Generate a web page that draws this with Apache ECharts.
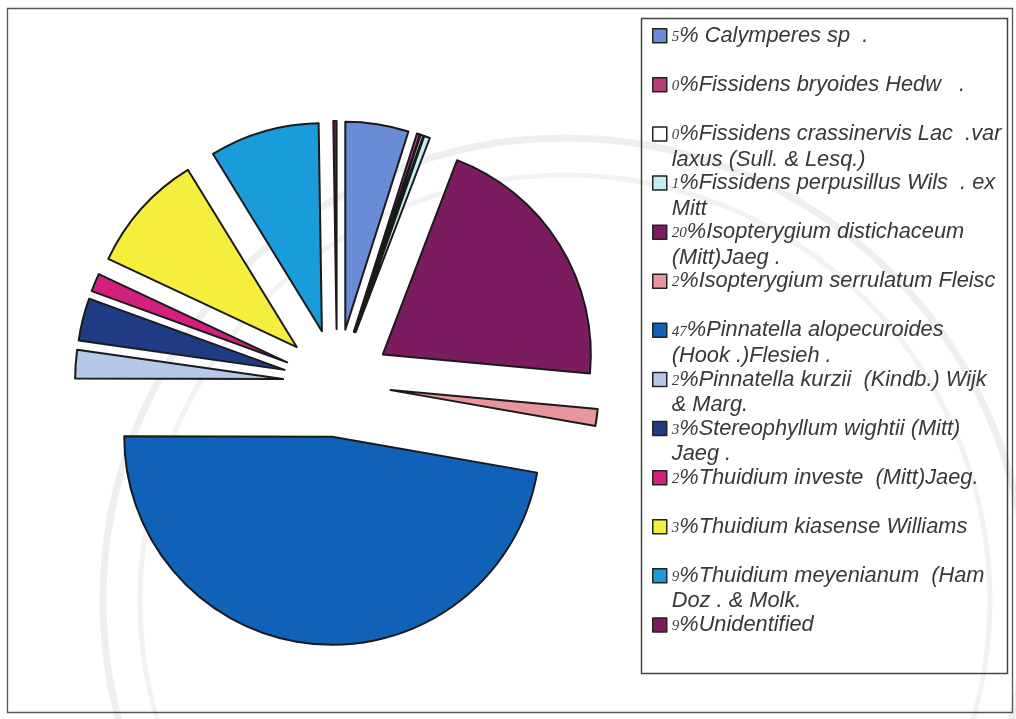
<!DOCTYPE html>
<html>
<head>
<meta charset="utf-8">
<script src="https://cdn.jsdelivr.net/npm/echarts@6/dist/echarts.min.js"></script>
<style>
html,body{margin:0;padding:0;background:#fff;}
#chart{width:1016px;height:719px;}
</style>
</head>
<body>
<div id="chart"></div>
<script>
// ---- data ----
const categories = [
  'Calymperes sp.',
  'Fissidens bryoides Hedw.',
  'Fissidens crassinervis Lac. var laxus (Sull. & Lesq.)',
  'Fissidens perpusillus Wils. ex Mitt',
  'Isopterygium distichaceum (Mitt) Jaeg.',
  'Isopterygium serrulatum Fleisch.',
  'Pinnatella alopecuroides (Hook.) Flesieh.',
  'Pinnatella kurzii (Kindb.) Wijk & Marg.',
  'Stereophyllum wightii (Mitt) Jaeg.',
  'Thuidium investe (Mitt) Jaeg.',
  'Thuidium kiasense Williams',
  'Thuidium meyenianum (Hamp.) Doz. & Molk.',
  'Unidentified'
];
// slice sizes (percent of circle)
const values = [4.9, 0.25, 0.2, 0.45, 20.6, 1.3, 47.2, 2.2, 3.3, 1.4, 9.25, 8.5, 0.25];
// percentages as printed in the legend
const pctLabels = ['5', '0', '0', '1', '20', '2', '47', '2', '3', '2', '3', '9', '9'];
const legendLine1 = [
  '% Calymperes sp  .',
  '%Fissidens bryoides Hedw   .',
  '%Fissidens crassinervis Lac  .var',
  '%Fissidens perpusillus Wils  . ex',
  '%Isopterygium distichaceum',
  '%Isopterygium serrulatum Fleisc',
  '%Pinnatella alopecuroides',
  '%Pinnatella kurzii  (Kindb.) Wijk',
  '%Stereophyllum wightii (Mitt)',
  '%Thuidium investe  (Mitt)Jaeg.',
  '%Thuidium kiasense Williams',
  '%Thuidium meyenianum  (Ham',
  '%Unidentified'
];
const legendLine2 = [
  '', '', 'laxus (Sull. & Lesq.)', 'Mitt', '(Mitt)Jaeg .', '',
  '(Hook .)Flesieh .', '& Marg.', 'Jaeg .', '', '', 'Doz . & Molk.', ''
];
const colors = [
  '#6a8cd6', '#b63c7c', '#ffffff', '#c4ecf5', '#7b1c60', '#e8969c',
  '#0f62b8', '#b6c8ea', '#1f3b84', '#d3207c', '#f6ee3c', '#1a9cda', '#7b1c60'
];

// ---- chart ----
const chart = echarts.init(document.getElementById('chart'), null, {renderer: 'canvas'});

const rich = {
  e: {fontSize: 21, lineHeight: 25.5},
  d: {fontFamily: 'Liberation Serif', fontStyle: 'italic', fontSize: 15, color: '#3a3a3a',
      lineHeight: 21, padding: [0, 0, 4, 0], verticalAlign: 'bottom'},
  t: {fontFamily: 'Liberation Sans', fontStyle: 'italic', fontSize: 21.8, color: '#383838',
      lineHeight: 25.5}
};

const legends = categories.map((name, i) => ({
  data: [name],
  orient: 'vertical',
  left: 652,
  top: 38 + i * 49.1 - 38.25,
  padding: 0,
  itemWidth: 14,
  itemHeight: 14,
  icon: 'rect',
  selectedMode: false,
  itemStyle: {borderColor: '#222', borderWidth: 1.5},
  formatter: () => '{e| }\n{d|' + pctLabels[i] + '}{t|' + legendLine1[i] + '}\n{t|' +
    (legendLine2[i] || ' ') + '}',
  textStyle: {rich: rich}
}));

const option = {
  animation: false,
  backgroundColor: '#ffffff',
  legend: legends,
  graphic: [
    {type: 'circle', z: -10, silent: true, shape: {cx: 565, cy: 600, r: 462},
     style: {fill: 'none', stroke: '#efefef', lineWidth: 7}},
    {type: 'circle', z: -10, silent: true, shape: {cx: 565, cy: 600, r: 425},
     style: {fill: 'none', stroke: '#f2f2f2', lineWidth: 5}},
    {type: 'rect', shape: {x: 7.5, y: 8.5, width: 1005, height: 704},
     style: {fill: 'none', stroke: '#555', lineWidth: 1.3}, silent: true},
    {type: 'rect', shape: {x: 641.5, y: 18.5, width: 366, height: 655},
     style: {fill: '#ffffff', fillOpacity: 0, stroke: '#444', lineWidth: 1.5}, silent: true}
  ],
  series: [{
    type: 'pie',
    center: [337, 383],
    radius: 208,
    startAngle: 90,
    clockwise: true,
    selectedMode: 'multiple',
    selectedOffset: 54,
    avoidLabelOverlap: false,
    label: {show: false},
    labelLine: {show: false},
    emphasis: {disabled: true},
    itemStyle: {borderColor: '#1a1a1a', borderWidth: 2},
    data: categories.map((name, i) => ({
      name: name,
      value: values[i],
      selected: true,
      itemStyle: {color: colors[i]}
    }))
  }]
};
chart.setOption(option);
</script>
</body>
</html>
